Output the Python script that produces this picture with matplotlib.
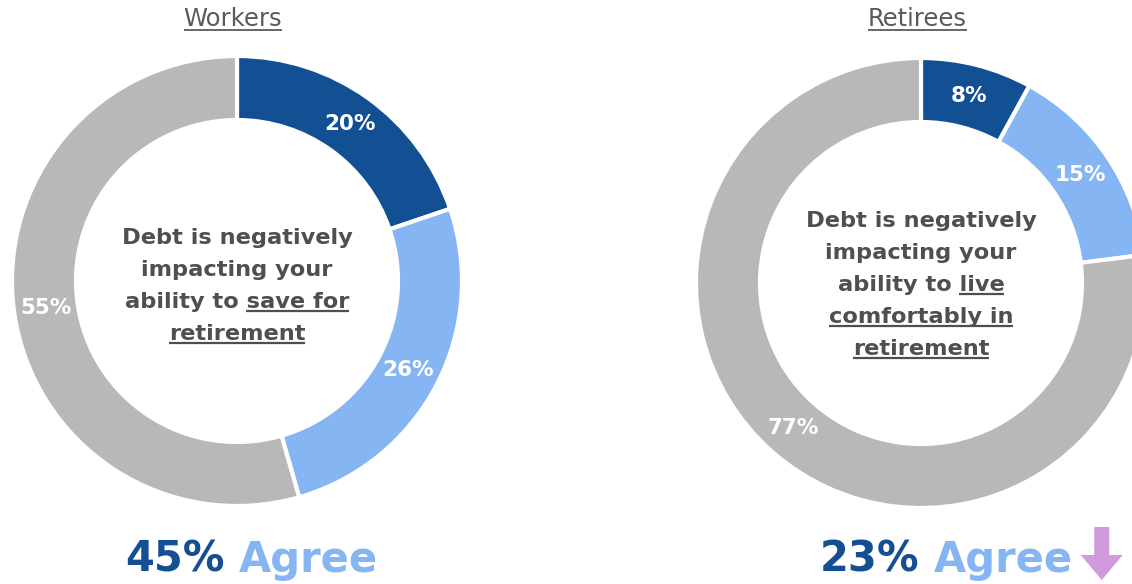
import numpy as np
import matplotlib.pyplot as plt
from matplotlib.patches import FancyArrow

# survey shares, clockwise from 12 o'clock: strongly agree, somewhat agree, disagree
groups = ["Workers", "Retirees"]
worker_shares = [20, 26, 55]
retiree_shares = [8, 15, 77]
agree_totals = [45, 23]

# centre statement, one entry per line: (plain part, underlined part)
worker_lines = [("Debt is negatively", ""), ("impacting your", ""),
                ("ability to ", "save for"), ("", "retirement")]
retiree_lines = [("Debt is negatively", ""), ("impacting your", ""),
                 ("ability to ", "live"), ("", "comfortably in"), ("", "retirement")]

DARK = "#134f93"
LIGHT = "#85b5f2"
GREY = "#b8b8b8"
TEXT = "#4f4f4f"
TITLE = "#5a5a5a"
ARROW = "#cf9bdc"

W, H = 1132, 584
R_OUT, R_IN = 225, 161
FONT = "DejaVu Sans"

fig = plt.figure(figsize=(W / 100, H / 100), dpi=100)
ax = fig.add_axes([0, 0, 1, 1])


def underline(txt_obj, part, renderer, color, lw=1.6):
    """Draw a rule under the trailing `part` of a text object."""
    bb = txt_obj.get_window_extent(renderer)
    tmp = ax.text(0, 0, part, fontsize=txt_obj.get_fontsize(),
                  fontweight=txt_obj.get_fontweight(), family=FONT)
    pw = tmp.get_window_extent(renderer).width
    tmp.remove()
    inv = ax.transData.inverted()
    x0, y0 = inv.transform((bb.x1 - pw, bb.y0))
    x1, _ = inv.transform((bb.x1, bb.y0))
    ax.plot([x0, x1], [y0 + 1, y0 + 1], color=color, lw=lw, solid_capstyle="butt")


def donut(cx, cy, shares):
    wedges, _ = ax.pie(shares, colors=[DARK, LIGHT, GREY], center=(cx, cy),
                       radius=R_OUT, startangle=90, counterclock=False,
                       wedgeprops=dict(width=R_OUT - R_IN, edgecolor="white",
                                       linewidth=3), frame=True)
    r_mid = (R_OUT + R_IN) / 2
    for w, v in zip(wedges, shares):
        a = np.deg2rad((w.theta1 + w.theta2) / 2)
        ax.text(cx + r_mid * np.cos(a), cy + r_mid * np.sin(a), f"{v}%",
                ha="center", va="center", color="white", fontsize=15.5,
                fontweight="bold", family=FONT)
    return wedges


LEFT = (237, H - 281)
RIGHT = (921, H - 283)

donut(*LEFT, worker_shares)
donut(*RIGHT, retiree_shares)

ax.set_xlim(0, W)
ax.set_ylim(0, H)
ax.set_aspect("equal")
ax.axis("off")

fig.canvas.draw()
renderer = fig.canvas.get_renderer()

# group titles
for (cx, _), name in zip([LEFT, RIGHT], groups):
    t = ax.text(cx - 4, H - 19, name, ha="center", va="center", color=TITLE,
                fontsize=17.5, family=FONT)
    underline(t, name, renderer, TITLE, lw=1.3)

# centre statements
for (cx, _), lines, y0 in [(LEFT, worker_lines, 238), (RIGHT, retiree_lines, 221)]:
    for i, (plain, under) in enumerate(lines):
        y = H - (y0 + 32 * i)
        t = ax.text(cx, y, plain + under, ha="center", va="center", color=TEXT,
                    fontsize=16.2, fontweight="bold", family=FONT)
        if under:
            underline(t, under, renderer, TEXT)

# agree totals under each donut
for x_left, total, arrow in [(125, agree_totals[0], False),
                             (820, agree_totals[1], True)]:
    base = H - 560
    t1 = ax.text(x_left, base, f"{total}%", ha="left", va="center", color=DARK,
                 fontsize=30, fontweight="bold", family=FONT)
    bb = t1.get_window_extent(renderer)
    x_next = ax.transData.inverted().transform((bb.x1, bb.y0))[0] + 14
    t2 = ax.text(x_next, base, "Agree", ha="left", va="center", color=LIGHT,
                 fontsize=30, fontweight="bold", family=FONT)
    if arrow:
        bb2 = t2.get_window_extent(renderer)
        xa = ax.transData.inverted().transform((bb2.x1, bb2.y0))[0] + 29
        ax.add_patch(FancyArrow(xa, H - 527, 0, -53, width=15, head_width=42,
                                head_length=25, length_includes_head=True,
                                color=ARROW, lw=0))

fig.savefig("out.png", dpi=100)
